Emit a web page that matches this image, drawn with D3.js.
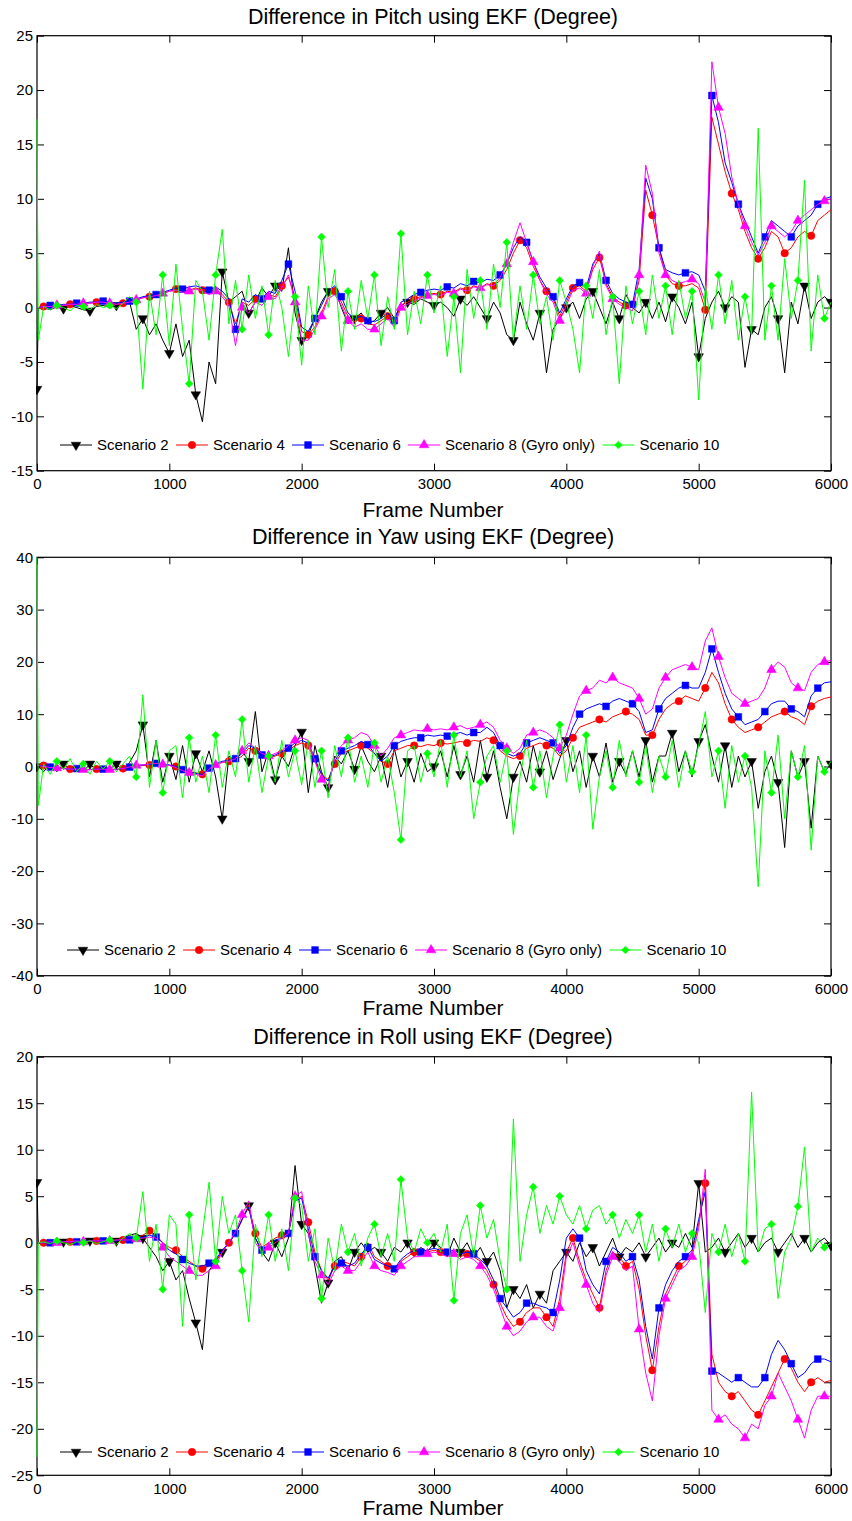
<!DOCTYPE html>
<html lang="en">
<head>
<meta charset="UTF-8">
<title>Difference in Pitch, Yaw and Roll using EKF</title>
<script src="https://d3js.org/d3.v7.min.js"></script>
<style>
  body { margin: 0; background: #fff; }
  svg { display: block; font-family: Arial, "Liberation Sans", Helvetica, sans-serif; }
  .axis text { font-size: 15px; fill: #000; }
  .axis line { stroke: #000; stroke-width: 1; }
  .axis path { display: none; }
  .legend text { font-size: 15px; fill: #000; }
  .title { font-size: 21.5px; fill: #000; text-anchor: middle; }
  .xlabel { font-size: 21px; fill: #000; text-anchor: middle; }
</style>
</head>
<body>
<svg id="chart" width="852" height="1521"></svg>
<script>
// frame grid shared by all series (two early samples, then every 50 frames)
const frames = [0, 10].concat(d3.range(50, 6001, 50));
const xTicks = [0, 1000, 2000, 3000, 4000, 5000, 6000];
const scenarioNames = ["Scenario 2", "Scenario 4", "Scenario 6", "Scenario 8 (Gyro only)", "Scenario 10"];
const scenarioColors = ["#000000", "#ff0000", "#0000ff", "#ff00ff", "#00ff00"];
const markerOffsets = [0, 50, 100, 150, 150];   // marker every 200 frames from these
const pitchTicks = [-15, -10, -5, 0, 5, 10, 15, 20, 25];
const yawTicks = [-40, -30, -20, -10, 0, 10, 20, 30, 40];
const rollTicks = [-25, -20, -15, -10, -5, 0, 5, 10, 15, 20];

// ---- Pitch ----
const pitchS2 = [-7.5, 0,
  0.0, -0.2, 0.1, -0.1, 0.2, 0.0, -0.2, -0.3, 0.1, 0.2,
  0.0, 0.2, 0.3, 0.5, -2.0, -1.0, -2.5, -1.5, -3.0, -4.2,
  -1.5, -4.5, -3.0, -8.0, -10.5, -5.0, -7.0, 3.3, 0.5, 1.0,
  1.5, -0.5, 0.5, 1.8, 1.0, 2.0, 1.5, 5.5, -0.5, -3.0,
  -2.5, -1.0, 0.5, 1.5, 1.8, 0.0, -1.5, -1.0, -0.5, -1.5,
  -1.2, -0.5, 0.0, -1.0, 0.2, 0.5, 0.3, 0.8, 0.5, 0.2,
  0.5, 0.0, -0.8, 0.8, 0.2, 1.0, 0.0, -1.0, 0.5, -0.5,
  -2.5, -3.0, 0.5, -1.5, -3.0, -0.5, -6.0, -2.0, -1.0, 0.0,
  0.5, -1.0, 0.8, 1.5, 0.0, -1.5, 0.5, -1.0, 1.2, 0.0,
  -0.5, 0.5, -1.0, 0.5, -1.3, 1.0, 0.0, -1.5, 0.5, -4.5,
  -1.0, 0.5, 1.5, 0.0, 1.0, 0.5, -5.5, -2.0, -2.5, 0.0,
  1.0, -1.0, -6.0, 0.5, -1.5, 2.0, -1.0, 0.5, 1.0, 0.5];
const pitchS4 = [0, 0,
  0.1, 0.1, 0.2, 0.2, 0.3, 0.3, 0.4, 0.4, 0.5, 0.5,
  0.4, 0.3, 0.4, 0.5, 0.7, 0.9, 1.0, 1.1, 1.3, 1.5,
  1.7, 1.5, 1.6, 1.8, 1.6, 1.4, 1.7, 1.2, 0.5, -1.5,
  0.5, 0.2, 0.8, 0.5, 1.2, 1.0, 2.0, 2.8, 1.0, -2.2,
  -2.5, -1.8, -0.5, 1.0, 1.5, 0.5, -0.8, -1.3, -1.0, -1.5,
  -1.6, -1.2, -0.8, -1.5, 0.2, 0.5, 0.8, 1.0, 1.2, 1.3,
  1.2, 1.5, 1.4, 1.8, 1.6, 2.0, 1.8, 2.2, 2.0, 2.5,
  3.5, 5.0, 6.2, 5.5, 3.8, 2.5, 1.5, 0.8, -0.8, 0.5,
  1.8, 2.0, 1.5, 3.5, 4.6, 2.2, 1.0, 0.5, 0.2, 0.0,
  2.5, 10.8, 8.5, 5.5, 3.0, 2.2, 2.0, 2.0, 2.2, 1.8,
  -0.2, 17.5, 15.0, 12.5, 10.5, 9.0, 7.0, 5.5, 4.5, 5.5,
  7.0, 6.5, 5.0, 5.5, 6.5, 7.0, 6.6, 8.0, 8.5, 9.0];
const pitchS6 = [0, 0,
  0.1, 0.2, 0.2, 0.3, 0.3, 0.4, 0.4, 0.5, 0.5, 0.6,
  0.5, 0.4, 0.5, 0.6, 0.8, 1.0, 1.1, 1.2, 1.4, 1.6,
  1.8, 1.7, 1.9, 2.0, 1.8, 1.6, 1.9, 1.5, 0.8, -2.0,
  0.8, 0.5, 1.2, 0.8, 1.5, 1.3, 2.5, 4.0, 1.5, -1.8,
  -2.2, -1.0, 0.2, 1.5, 2.0, 1.0, -0.5, -1.0, -0.8, -1.2,
  -1.3, -1.0, -0.5, -1.2, 0.5, 0.8, 1.2, 1.4, 1.6, 1.7,
  1.6, 1.9, 1.8, 2.2, 2.0, 2.4, 2.3, 2.6, 2.5, 3.0,
  4.0, 5.5, 6.5, 6.0, 4.2, 2.8, 1.8, 1.0, -0.5, 0.8,
  2.0, 2.3, 1.8, 4.0, 5.0, 2.5, 1.3, 0.8, 0.5, 0.3,
  3.5, 11.9, 10.0, 5.5, 3.5, 3.2, 3.0, 3.2, 3.3, 3.0,
  1.5, 19.5, 17.0, 13.3, 11.5, 9.5, 8.0, 6.5, 5.0, 6.5,
  8.0, 7.5, 7.0, 6.5, 7.5, 8.0, 8.5, 9.5, 10.0, 10.2];
const pitchS8 = [0, 0,
  0.1, 0.1, 0.2, 0.2, 0.3, 0.3, 0.4, 0.4, 0.5, 0.5,
  0.4, 0.3, 0.4, 0.5, 0.7, 0.9, 1.0, 1.1, 1.3, 1.5,
  1.6, 1.4, 1.5, 1.7, 1.5, 1.2, 1.5, 1.0, 0.2, -3.5,
  0.0, -0.5, 0.5, 0.2, 1.0, 0.8, 1.8, 3.0, 0.5, -3.0,
  -3.0, -2.0, -0.8, 0.8, 1.2, 0.2, -1.2, -1.8, -1.5, -2.0,
  -2.0, -1.5, -1.0, -1.8, 0.0, 0.3, 0.6, 0.9, 1.1, 1.2,
  1.1, 1.4, 1.3, 1.7, 1.5, 1.9, 1.8, 2.1, 2.0, 2.8,
  4.0, 6.0, 7.8, 6.0, 4.2, 2.5, 1.2, 0.5, -1.2, 0.2,
  1.6, 1.8, 1.3, 3.8, 5.2, 2.0, 0.8, 0.3, 0.0, -0.3,
  3.0, 13.1, 10.5, 5.0, 3.0, 2.5, 2.2, 2.4, 2.6, 2.2,
  0.5, 22.6, 18.4, 16.0, 12.0, 9.5, 7.5, 6.0, 4.8, 6.0,
  7.5, 7.0, 6.5, 7.0, 8.0, 8.5, 9.0, 9.5, 9.8, 10.0];
const pitchS10 = [17.3, -3,
  0.1, -0.2, 0.2, 0.0, -0.3, 0.2, 0.1, -0.2, 0.3, 0.0,
  0.2, -0.1, 0.4, 1.0, 0.5, -7.5, 1.5, -2.5, 3.0, -3.5,
  4.0, -2.0, -7.0, 2.5, 1.5, -3.0, 3.0, 7.2, -1.5, 2.5,
  -2.0, 3.0, -1.0, 2.0, -2.5, 2.5, 0.0, -4.5, 1.0, -5.3,
  2.0, -2.5, 6.5, 0.0, 3.5, -4.0, 1.5, -2.0, 2.5, -1.0,
  3.0, -3.5, 1.0, -2.0, 6.8, -2.5, 1.5, -1.5, 3.0, -0.5,
  2.0, -4.5, 1.0, -6.0, 3.5, -1.0, 2.5, -2.0, 4.0, 0.0,
  6.0, -3.0, 2.0, -2.0, 3.0, -1.5, 1.0, -3.0, 2.5, 0.5,
  -2.0, -6.0, 2.0, -1.0, 3.5, -2.5, 1.0, -7.0, 2.0, -1.5,
  1.5, -2.5, 3.0, -1.0, 2.0, -2.5, 2.5, -1.0, 1.5, -8.5,
  2.0, -2.0, 3.0, -1.5, 2.5, -3.0, 1.0, -2.5, 16.5, -3.0,
  2.0, -3.0, 4.5, -1.0, 2.5, 11.7, -4.0, 3.0, -1.0, 0.5];

// ---- Yaw ----
const yawS2 = [0, 0,
  -1.0, 0.5, -1.0, 0.5, -0.5, 0.0, -1.0, 0.5, -0.8, 0.0,
  -0.5, 0.5, -1.0, 0.8, 3.0, 8.0, -2.0, 5.0, -3.0, 2.0,
  -2.5, 4.0, -3.0, 2.5, -1.0, 3.0, -2.0, -10.0, 2.0, 1.0,
  3.0, 1.0, 10.5, -1.0, 3.0, -2.5, 2.0, 0.0, 4.0, 6.6,
  -5.0, 4.0, -1.0, -4.0, 2.0, 0.5, 3.0, -0.5, 4.0, 1.0,
  -1.0, 2.0, -4.0, 3.5, -2.0, 1.0, -3.0, 2.5, -1.0, 0.0,
  3.0, -2.0, 4.0, -1.5, 2.0, -3.0, 5.0, -2.0, 3.0, -4.0,
  -10.0, -2.0, 1.0, -3.0, 4.0, -1.0, 3.0, -2.5, 1.5, 5.0,
  -1.0, 3.0, -4.0, 2.0, -2.0, 4.5, -3.0, 1.0, -1.5, 3.0,
  -2.0, 5.0, -3.0, 2.0, 2.0, 6.4, -1.0, 3.0, -2.0, 4.8,
  8.0, 2.0, -3.0, 4.0, -4.0, 2.0, -2.0, 1.0, -8.0, -1.0,
  2.0, -3.0, -15.5, 3.0, -2.0, 1.0, -11.8, 2.0, -1.0, 0.5];
const yawS4 = [0.5, 0.3,
  0.2, 0.0, -0.2, -0.3, -0.5, -0.4, -0.5, -0.6, -0.5, -0.4,
  -0.5, -0.6, -0.4, -0.2, 0.0, 0.2, 0.3, 0.5, 0.4, 0.2,
  0.0, -0.5, -1.0, -1.2, -1.5, -0.5, 0.3, 0.8, 1.0, 1.2,
  2.0, 3.5, 3.0, 2.0, 1.5, 2.0, 2.5, 3.0, 4.0, 4.5,
  4.0, 1.0, -1.5, -2.5, 0.5, 2.5, 3.0, 3.5, 4.0, 3.5,
  2.5, 1.0, 0.5, 3.0, 3.5, 4.0, 4.0, 3.8, 4.2, 4.0,
  4.5, 4.3, 4.5, 4.8, 4.5, 5.0, 4.8, 5.5, 5.0, 3.0,
  2.0, 1.5, 2.0, 3.5, 4.0, 4.5, 4.0, 3.5, 2.0, 3.0,
  5.5, 7.5, 8.0, 8.5, 9.0, 8.5, 9.5, 10.0, 10.5, 10.0,
  9.0, 6.0, 6.0, 9.0, 11.0, 12.0, 12.5, 13.5, 13.0, 12.5,
  15.0, 18.0, 16.0, 12.0, 9.0, 7.5, 6.5, 7.0, 7.5, 8.5,
  9.5, 10.0, 10.5, 9.5, 9.0, 8.0, 11.5, 12.5, 13.0, 13.3];
const yawS6 = [0.3, 0.2,
  0.1, -0.1, -0.3, -0.4, -0.5, -0.4, -0.6, -0.6, -0.5, -0.5,
  -0.6, -0.6, -0.4, -0.1, 0.2, 0.3, 0.4, 0.6, 0.5, 0.3,
  0.0, -0.6, -1.0, -1.3, -1.5, -0.3, 0.5, 1.0, 1.2, 1.5,
  2.5, 4.0, 3.5, 2.2, 1.8, 2.2, 2.8, 3.5, 4.5, 5.0,
  4.5, 1.5, -1.5, -2.8, 1.0, 3.0, 3.5, 4.0, 4.8, 4.2,
  2.5, 1.0, 2.0, 4.0, 4.8, 5.2, 5.5, 5.5, 6.0, 5.8,
  6.0, 5.8, 6.2, 6.5, 6.0, 6.5, 6.5, 7.5, 6.5, 4.0,
  2.5, 2.0, 2.5, 4.5, 5.0, 5.5, 5.0, 4.5, 2.5, 4.0,
  7.5, 10.0, 11.0, 11.5, 12.0, 11.5, 12.5, 13.0, 12.5, 12.0,
  10.5, 6.5, 7.0, 11.0, 13.0, 14.0, 15.0, 15.5, 15.0, 15.0,
  18.0, 22.5, 18.0, 14.0, 11.0, 9.5, 8.0, 8.5, 9.0, 10.5,
  12.0, 12.5, 12.5, 11.0, 10.5, 9.5, 13.5, 15.0, 16.0, 16.2];
const yawS8 = [0.5, 0.2,
  0.0, -0.2, -0.3, -0.4, -0.5, -0.5, -0.6, -0.6, -0.5, -0.5,
  -0.6, -0.5, -0.4, -0.1, 0.2, 0.3, 0.5, 0.6, 0.4, 0.2,
  -0.2, -0.8, -1.2, -1.5, -1.8, -0.5, 0.3, 0.8, 1.0, 1.5,
  3.0, 4.5, 3.5, 2.5, 2.0, 2.5, 3.0, 4.0, 5.0, 5.5,
  5.0, 1.0, -2.5, -4.0, 1.5, 4.0, 5.0, 5.5, 6.5, 6.0,
  4.0, 2.0, 3.5, 5.5, 6.0, 6.5, 7.0, 6.8, 7.2, 7.0,
  7.2, 7.0, 7.5, 7.8, 7.2, 7.5, 8.0, 8.5, 7.5, 5.0,
  3.5, 2.5, 3.5, 6.0, 6.5, 7.0, 6.5, 5.5, 3.5, 6.0,
  10.0, 13.5, 14.5, 15.0, 16.5, 16.0, 17.0, 16.0, 15.5, 15.0,
  13.0, 10.0, 11.0, 15.0, 17.0, 18.5, 19.0, 19.5, 19.0, 18.5,
  24.0, 26.5, 21.0, 17.0, 14.0, 13.0, 12.0, 12.5, 13.0, 15.0,
  18.5, 20.0, 19.0, 16.0, 15.0, 14.5, 18.0, 19.5, 20.0, 20.3];
const yawS10 = [40, -7.5,
  0.5, -1.5, 1.0, -0.5, 1.5, -1.0, 0.5, -1.5, 1.0, -0.5,
  1.0, -1.0, 0.5, 2.0, -2.0, 13.7, -4.0, 5.0, -5.0, 3.0,
  4.0, -6.0, 5.5, -3.0, 2.0, -5.0, 6.0, -4.0, 3.0, -2.0,
  9.0, -3.0, 4.0, -5.0, 2.0, -3.0, 5.0, -2.0, 3.0, -3.5,
  5.0, -4.0, 3.0, -6.0, 4.0, -2.0, 5.5, -3.0, 2.0, -4.0,
  4.5, -3.0, 2.0, -5.0, -14.0, 3.0, 4.0, -3.0, 2.5, -2.0,
  5.0, -4.0, 6.0, -2.0, 3.0, -10.0, -3.0, 2.0, 4.0, -3.0,
  3.0, -13.0, -2.0, 5.0, -4.0, 3.0, -6.0, 2.0, 8.0, -3.0,
  4.0, -5.0, 6.0, -12.0, -2.0, 3.0, -4.0, 5.0, -2.0, 3.0,
  -3.0, 4.0, -5.0, 2.0, -2.0, 5.0, -4.0, 3.0, -1.0, 4.0,
  10.5, -2.0, 3.0, -8.0, 4.0, -3.0, 2.0, -4.0, -23.0, 3.0,
  -5.0, 6.0, -10.0, 3.0, -2.0, 4.0, -16.0, 2.0, -1.0, 1.0];

// ---- Roll ----
const rollS2 = [6.5, 0,
  0.0, 0.2, -0.1, 0.1, 0.2, 0.0, 0.1, 0.2, 0.1, 0.0,
  0.3, 0.2, 0.5, 0.8, 1.0, 0.5, -0.5, -1.5, -3.0, -2.0,
  -4.0, -3.0, -6.0, -8.6, -11.5, -3.0, -2.0, -1.0, 0.0, 1.0,
  2.5, 4.0, 0.5, -1.0, -2.0, 0.0, -1.5, 0.5, 8.3, 2.0,
  1.0, -2.5, -6.5, -4.3, -2.0, -1.5, -3.0, -1.0, 0.0, -1.0,
  -0.5, -1.0, -2.0, -0.5, -1.0, 0.0, -1.5, -0.5, -1.0, 0.0,
  -0.5, -1.5, 0.5, -1.0, 0.0, -1.5, -0.5, -2.0, -1.0, -3.0,
  -7.0, -5.0, -6.0, -4.5, -7.0, -5.5, -6.5, -3.0, -2.0, -1.0,
  -2.0, 0.0, -1.5, -0.5, -2.5, -1.0, 0.5, -1.5, -0.5, -1.0,
  0.0, -1.5, -0.5, 0.5, -1.0, 0.0, -0.5, 1.0, -0.5, 6.4,
  -1.0, -0.5, 0.5, -1.0, 0.0, 1.0, -0.5, 0.5, -1.0, 0.0,
  0.5, -1.0, 0.0, 1.0, -0.5, 0.5, -1.0, 0.0, 0.5, -0.3];
const rollS4 = [0, 0,
  0.0, 0.1, 0.0, 0.1, 0.1, 0.2, 0.1, 0.2, 0.2, 0.2,
  0.2, 0.3, 0.3, 0.4, 0.5, 0.8, 1.3, 0.8, 0.0, -0.5,
  -0.8, -1.5, -2.0, -2.5, -2.8, -2.5, -2.0, -1.0, 0.0, 1.0,
  2.5, 4.0, 1.0, -0.5, 0.0, 0.5, 0.8, 1.0, 4.5, 5.0,
  2.2, -1.0, -3.0, -4.0, -2.5, -2.0, -2.2, -2.5, -1.5, 0.0,
  -1.5, -2.0, -2.5, -3.0, -2.0, -1.5, -1.0, -1.2, -1.0, -0.8,
  -1.0, -1.2, -1.0, -1.5, -1.2, -1.5, -2.0, -3.0, -4.5, -6.5,
  -8.0, -9.0, -8.5, -7.5, -7.0, -7.0, -8.0, -9.0, -6.0, -1.0,
  0.5, -2.0, -4.0, -5.5, -7.0, -3.0, -1.0, -1.5, -2.5, -2.0,
  -5.0, -10.0, -13.7, -9.0, -5.5, -4.0, -2.5, -2.0, -1.0, 2.0,
  6.4, -12.0, -15.0, -16.0, -16.5, -16.0, -17.0, -18.0, -18.5, -17.0,
  -15.5, -14.0, -12.5, -13.5, -15.0, -16.0, -15.0, -14.5, -15.0, -14.8];
const rollS6 = [0, 0,
  0.0, 0.0, 0.1, 0.1, 0.1, 0.1, 0.2, 0.2, 0.2, 0.2,
  0.2, 0.2, 0.3, 0.3, 0.5, 0.6, 0.8, 0.6, 0.0, -0.8,
  -1.2, -1.8, -2.2, -2.5, -2.5, -2.2, -1.8, -0.8, 0.0, 1.0,
  2.5, 3.8, 0.5, -0.8, -0.3, 0.3, 0.5, 1.0, 4.5, 4.8,
  1.5, -1.5, -3.0, -3.8, -2.5, -2.2, -2.5, -2.2, -1.2, -0.5,
  -1.8, -2.2, -2.5, -2.8, -1.8, -1.2, -0.8, -1.0, -0.8, -0.6,
  -0.8, -1.0, -0.8, -1.2, -1.0, -1.2, -1.8, -2.5, -4.0, -6.0,
  -7.0, -8.0, -7.5, -6.5, -6.5, -6.8, -7.0, -7.5, -4.0, 0.5,
  1.5, 0.5, -3.0, -4.5, -5.5, -2.0, -0.5, -1.0, -2.0, -1.5,
  -4.0, -9.0, -12.5, -7.0, -4.5, -3.0, -2.0, -1.5, -0.8, 2.5,
  5.5, -13.8, -14.0, -14.5, -15.0, -14.5, -15.0, -15.5, -15.5, -14.5,
  -12.0, -10.5, -11.5, -13.0, -14.5, -14.0, -13.0, -12.5, -12.5, -12.8];
const rollS8 = [0, 0,
  0.0, 0.1, 0.0, 0.1, 0.1, 0.2, 0.1, 0.2, 0.2, 0.2,
  0.2, 0.3, 0.3, 0.3, 0.4, 0.5, 0.6, 0.5, -0.5, -1.5,
  -2.0, -2.5, -3.0, -3.5, -3.5, -3.0, -2.5, -1.0, 0.0, 1.2,
  3.0, 4.5, 0.0, -1.0, -0.5, 0.0, 0.5, 1.0, 5.0, 5.5,
  1.0, -2.0, -3.5, -4.5, -3.0, -2.5, -3.0, -3.0, -2.0, -1.0,
  -2.5, -3.0, -3.2, -3.5, -2.5, -2.0, -1.5, -1.5, -1.2, -1.0,
  -1.2, -1.5, -1.2, -1.8, -1.5, -1.8, -2.5, -3.5, -5.0, -7.0,
  -9.0, -10.0, -9.5, -8.5, -8.0, -8.0, -9.0, -9.5, -7.0, -1.5,
  0.0, -2.5, -4.5, -6.5, -7.5, -3.5, -1.5, -2.0, -3.0, -2.5,
  -9.3, -14.0, -17.0, -10.0, -6.0, -4.5, -3.0, -2.5, -1.5, 1.5,
  7.9, -18.0, -19.0, -18.5, -19.5, -20.0, -21.0, -19.5, -20.0, -17.5,
  -16.5, -14.0, -15.5, -17.0, -19.0, -21.0, -18.0, -16.5, -16.5, -16.5];
const rollS10 = [-23, 0,
  0.1, -0.1, 0.2, 0.0, -0.2, 0.1, 0.0, 0.2, -0.1, 0.1,
  0.3, -0.2, 0.5, 1.0, 0.5, 5.5, -2.0, 2.0, -5.0, 3.0,
  2.0, -9.0, 3.0, -4.0, 1.0, 6.5, -2.0, 5.0, 1.0, 3.0,
  -3.0, -8.5, 2.0, -1.5, 3.0, -2.0, 1.5, -3.0, 4.8, 4.0,
  -2.0, 1.5, -6.0, 0.5, -3.0, 2.0, -1.0, 1.0, -2.5, 0.5,
  2.0, -1.5, 1.0, -2.0, 6.8, 0.5, -1.0, 1.5, 0.0, 1.0,
  -1.0, 2.0, -6.2, 1.0, 3.0, -1.5, 4.0, 0.5, 2.5, -2.0,
  -5.0, 13.3, -2.0, 3.0, 6.0, 1.0, 4.0, 2.0, 5.0, 3.0,
  2.0, 4.0, 1.5, 3.5, 4.0, 2.0, 3.0, 0.5, 2.5, 1.0,
  3.0, -1.0, 2.0, -2.0, 1.5, -0.5, 2.0, -1.0, 1.0, 0.0,
  -7.5, 1.0, -1.0, 2.0, -1.5, 1.0, -2.0, 16.2, -1.0, 1.5,
  2.0, -6.0, -1.0, 0.5, 3.9, 10.3, -1.0, 0.5, -0.5, 0.0];

const panels = [
  { title: "Difference in Pitch using EKF (Degree)", yDomain: [-15, 25], yTicks: pitchTicks,
    series: [pitchS2, pitchS4, pitchS6, pitchS8, pitchS10],
    top: 35.7, bottom: 470.7, titleY: 23.5, xLabelY: 517, legendX: 60, legendY: 445 },
  { title: "Difference in Yaw using EKF (Degree)", yDomain: [-40, 40], yTicks: yawTicks,
    series: [yawS2, yawS4, yawS6, yawS8, yawS10],
    top: 557.3, bottom: 975.7, titleY: 543.5, xLabelY: 1015, legendX: 67, legendY: 950 },
  { title: "Difference in Roll using EKF (Degree)", yDomain: [-25, 20], yTicks: rollTicks,
    series: [rollS2, rollS4, rollS6, rollS8, rollS10],
    top: 1056.7, bottom: 1475.3, titleY: 1043.5, xLabelY: 1515, legendX: 60, legendY: 1452 }
];

const svg = d3.select("#chart");
const left = 37, right = 831;
const x = d3.scaleLinear().domain([0, 6000]).range([left, right]);

function markerPath(si) {
  if (si === 0) return { d: d3.symbol(d3.symbolTriangle, 40)(), rot: 180 };
  if (si === 1) return { d: d3.symbol(d3.symbolCircle, 44)(), rot: 0 };
  if (si === 2) return { d: d3.symbol(d3.symbolSquare, 46)(), rot: 0 };
  if (si === 3) return { d: d3.symbol(d3.symbolTriangle, 40)(), rot: 0 };
  return { d: d3.symbol(d3.symbolSquare, 30)(), rot: 45 };
}

function drawMarker(g, si, cx, cy) {
  const m = markerPath(si);
  g.append("path")
    .attr("d", m.d)
    .attr("transform", `translate(${cx},${cy}) rotate(${m.rot})`)
    .attr("fill", scenarioColors[si])
    .attr("stroke", scenarioColors[si])
    .attr("stroke-width", 0.5);
}

panels.forEach((p, pi) => {
  p.series.forEach((vals, si) => {
    if (vals.length !== frames.length) throw new Error(`panel ${pi} series ${si}: ${vals.length} values`);
  });

  const y = d3.scaleLinear().domain(p.yDomain).range([p.bottom, p.top]);
  const g = svg.append("g");
  const clipId = "clip" + pi;
  svg.append("clipPath").attr("id", clipId).append("rect")
    .attr("x", left - 1).attr("y", p.top)
    .attr("width", right - left + 2).attr("height", p.bottom - p.top);

  // axes, ticks pointing inward
  g.append("g").attr("class", "axis").attr("transform", `translate(0,${p.bottom})`)
    .call(d3.axisBottom(x).tickValues(xTicks).tickSizeInner(-7).tickSizeOuter(0).tickPadding(8).tickFormat(d => String(d)));
  g.append("g").attr("class", "axis").attr("transform", `translate(0,${p.top})`)
    .call(d3.axisTop(x).tickValues(xTicks).tickSizeInner(-7).tickSizeOuter(0).tickFormat(""));
  g.append("g").attr("class", "axis").attr("transform", `translate(${left},0)`)
    .call(d3.axisLeft(y).tickValues(p.yTicks).tickSizeInner(-7).tickSizeOuter(0).tickPadding(4).tickFormat(d => String(d)));
  g.append("g").attr("class", "axis").attr("transform", `translate(${right},0)`)
    .call(d3.axisRight(y).tickValues(p.yTicks).tickSizeInner(-7).tickSizeOuter(0).tickFormat(""));
  g.append("rect")
    .attr("x", left).attr("y", p.top)
    .attr("width", right - left).attr("height", p.bottom - p.top)
    .attr("fill", "none").attr("stroke", "#000").attr("stroke-width", 1.2);

  // series lines with markers every 200 frames
  const line = d3.line().x((d, i) => x(frames[i])).y(d => y(d));
  const plot = g.append("g").attr("clip-path", `url(#${clipId})`);
  p.series.forEach((vals, si) => {
    plot.append("path")
      .datum(vals)
      .attr("d", line)
      .attr("fill", "none")
      .attr("stroke", scenarioColors[si])
      .attr("stroke-width", 1);
    frames.forEach((f, i) => {
      if (f >= markerOffsets[si] && (f - markerOffsets[si]) % 200 === 0) {
        drawMarker(plot, si, x(f), y(vals[i]));
      }
    });
  });

  // legend
  const lg = g.append("g").attr("class", "legend");
  let lx = p.legendX;
  scenarioNames.forEach((name, si) => {
    lg.append("line")
      .attr("x1", lx).attr("x2", lx + 32)
      .attr("y1", p.legendY).attr("y2", p.legendY)
      .attr("stroke", scenarioColors[si]).attr("stroke-width", 1);
    drawMarker(lg, si, lx + 16, p.legendY);
    const t = lg.append("text")
      .attr("x", lx + 37).attr("y", p.legendY).attr("dy", "0.35em")
      .text(name);
    lx += 37 + t.node().getComputedTextLength() + 7.3;
  });

  // titles
  g.append("text").attr("class", "title")
    .attr("x", 433).attr("y", p.titleY).text(p.title);
  g.append("text").attr("class", "xlabel")
    .attr("x", 433).attr("y", p.xLabelY).text("Frame Number");
});
</script>
</body>
</html>
